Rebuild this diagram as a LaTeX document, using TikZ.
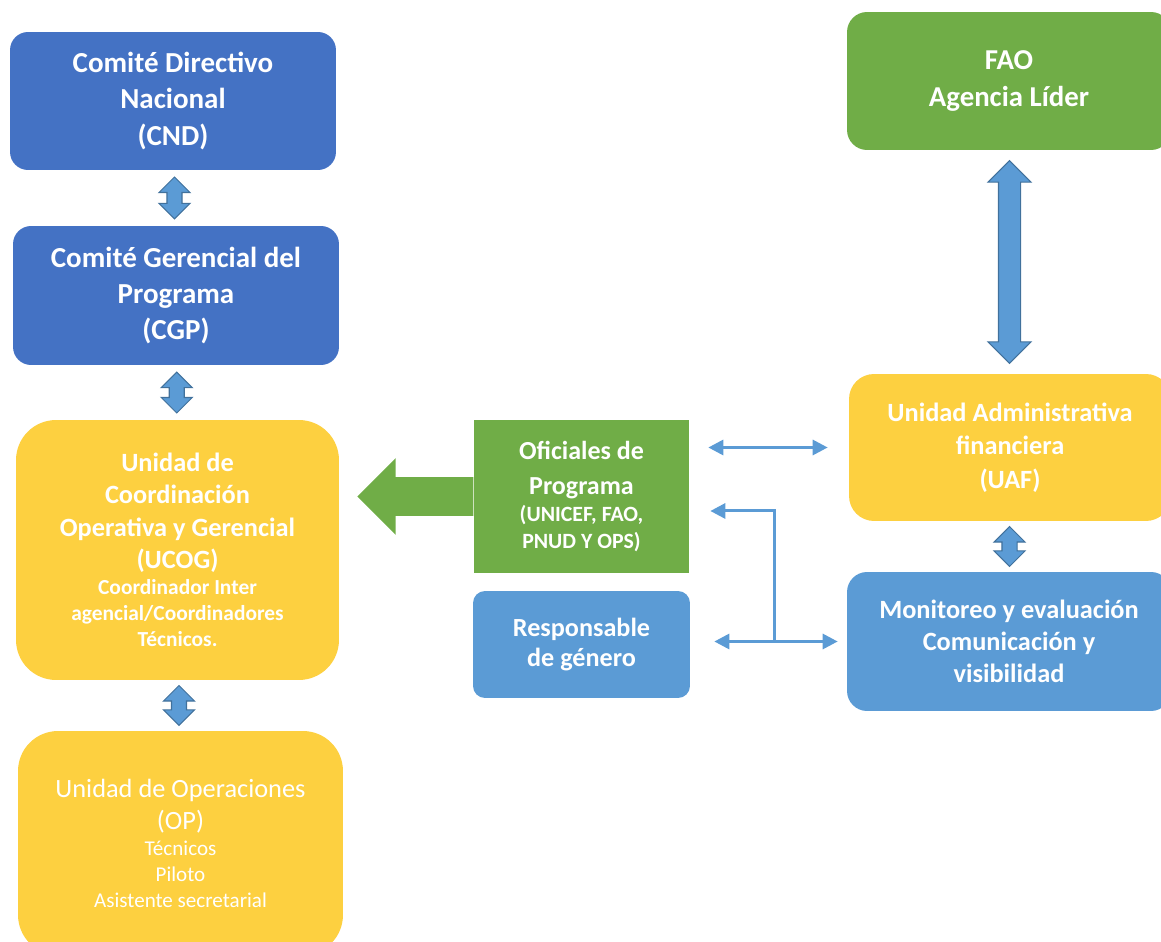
\documentclass[tikz,border=0pt]{standalone}
\usepackage{fontspec}
\setmainfont{Carlito}
\usetikzlibrary{shapes.arrows,arrows.meta,calc}
\definecolor{azul}{RGB}{68,114,196}
\definecolor{celeste}{RGB}{91,155,213}
\definecolor{verde}{RGB}{112,173,71}
\definecolor{amarillo}{RGB}{253,208,64}
\definecolor{borde}{RGB}{65,113,156}
\begin{document}
\begin{tikzpicture}[x=0.02cm,y=-0.02cm,
    caja/.style={inner sep=0pt,text=white,align=flush center,
        font=\bfseries\fontsize{15}{18.5}\selectfont},
    flechadoble/.style={double arrow,shape border rotate=90,draw=borde,
        fill=celeste,line width=0.6pt,inner sep=0.14cm,minimum width=0pt,
        double arrow head extend=0.16cm},
    flechita/.style={draw=celeste,line width=0.06cm},
    punta/.style={-{Triangle[length=0.3cm,width=0.3cm]}},
    puntas/.style={{Triangle[length=0.3cm,width=0.3cm]}-{Triangle[length=0.3cm,width=0.3cm]}}
]
    \useasboundingbox (0,0) rectangle (1161,942);
    %% Left column
    \node[caja,fill=azul,rounded corners=0.36cm,minimum width=6.52cm,
        minimum height=2.76cm,font=\bfseries\fontsize{16.5}{20.5}\selectfont]
        (cnd) at (173,101) {Comité Directivo\\Nacional\\(CND)};
    \node[caja,fill=azul,rounded corners=0.36cm,minimum width=6.52cm,
        minimum height=2.78cm,font=\bfseries\fontsize{16.5}{20.5}\selectfont]
        (cgp) at (176,295.5) {Comité Gerencial del\\Programa\\(CGP)};
    \node[caja,fill=amarillo,rounded corners=0.8cm,minimum width=6.46cm,
        minimum height=5.2cm,text width=6cm]
        (ucog) at (177.5,550) {Unidad de\\Coordinación\\Operativa y Gerencial\\(UCOG)\par
        {\fontsize{12.2}{14.8}\selectfont Coordinador Inter\\agencial/Coordinadores\\Técnicos.\par}};
    \node[caja,fill=amarillo,rounded corners=0.8cm,minimum width=6.5cm,
        minimum height=4.48cm,text width=6cm,
        font=\fontsize{15}{18.2}\selectfont]
        (op) at (180.5,843) {Unidad de Operaciones\\(OP)\par
        {\fontsize{12}{14.8}\selectfont Técnicos\\Piloto\\Asistente secretarial\par}};
    %% Middle column
    \node[caja,fill=verde,minimum width=4.3cm,minimum height=3.06cm,
        text width=4cm,font=\bfseries\fontsize{14.8}{20}\selectfont]
        (ofi) at (581.5,496.5) {Oficiales de\\Programa\par
        {\fontsize{12.4}{15.4}\selectfont (UNICEF, FAO,\\PNUD Y OPS)\par}};
    \node[caja,fill=celeste,rounded corners=0.24cm,minimum width=4.34cm,
        minimum height=2.14cm,font=\bfseries\fontsize{14.9}{17.6}\selectfont]
        (res) at (581.5,644.5) {Responsable\\de género};
    %% Right column
    \node[caja,fill=verde,rounded corners=0.4cm,minimum width=6.48cm,
        minimum height=2.76cm,font=\bfseries\fontsize{16.4}{21}\selectfont]
        (fao) at (1009,81) {FAO\\Agencia Líder};
    \node[caja,fill=amarillo,rounded corners=0.5cm,minimum width=6.44cm,
        minimum height=2.94cm,font=\bfseries\fontsize{15}{19}\selectfont]
        (uaf) at (1010,447.5) {Unidad Administrativa\\financiera\\(UAF)};
    \node[caja,fill=celeste,rounded corners=0.4cm,minimum width=6.48cm,
        minimum height=2.78cm,font=\bfseries\fontsize{15}{18.2}\selectfont]
        (mon) at (1009,641.5) {Monitoreo y evaluación\\Comunicación y\\visibilidad};
    %% Block arrows
    \node[flechadoble,minimum height=0.84cm] (f1) at ($(cnd.south)!0.5!(cgp.north)$) {};
    \node[flechadoble,minimum height=0.82cm] (f2) at ($(cgp.south)!0.5!(ucog.north)$) {};
    \node[flechadoble,minimum height=0.8cm] (f3) at ($(ucog.south)!0.5!(op.north)$) {};
    \node[flechadoble,minimum height=0.8cm] (f4) at ($(uaf.south)!0.5!(mon.north)$) {};
    \node[flechadoble,minimum height=4.06cm,inner sep=0.21cm,
        double arrow head extend=0.21cm] (f5) at ($(fao.south)!0.5!(uaf.north)$) {};
    \node[single arrow,shape border rotate=180,fill=verde,inner sep=0.38cm,
        minimum height=2.32cm,minimum width=0pt,single arrow head extend=0.38cm,
        anchor=tail] (grande) at (ofi.west) {};
    %% Thin arrows
    \draw[flechita,puntas,shorten <=0.38cm,shorten >=0.42cm]
        (ofi.east |- uaf.west) -- (uaf.west);
    \draw[flechita,puntas,shorten <=0.48cm,shorten >=0.18cm]
        (res.east |- mon.west) -- (mon.west);
    \coordinate (cruce) at (774,641.5);
    \draw[flechita,punta,shorten >=0.42cm] (cruce) |- ([yshift=-0.29cm]ofi.east);
\end{tikzpicture}
\end{document}
